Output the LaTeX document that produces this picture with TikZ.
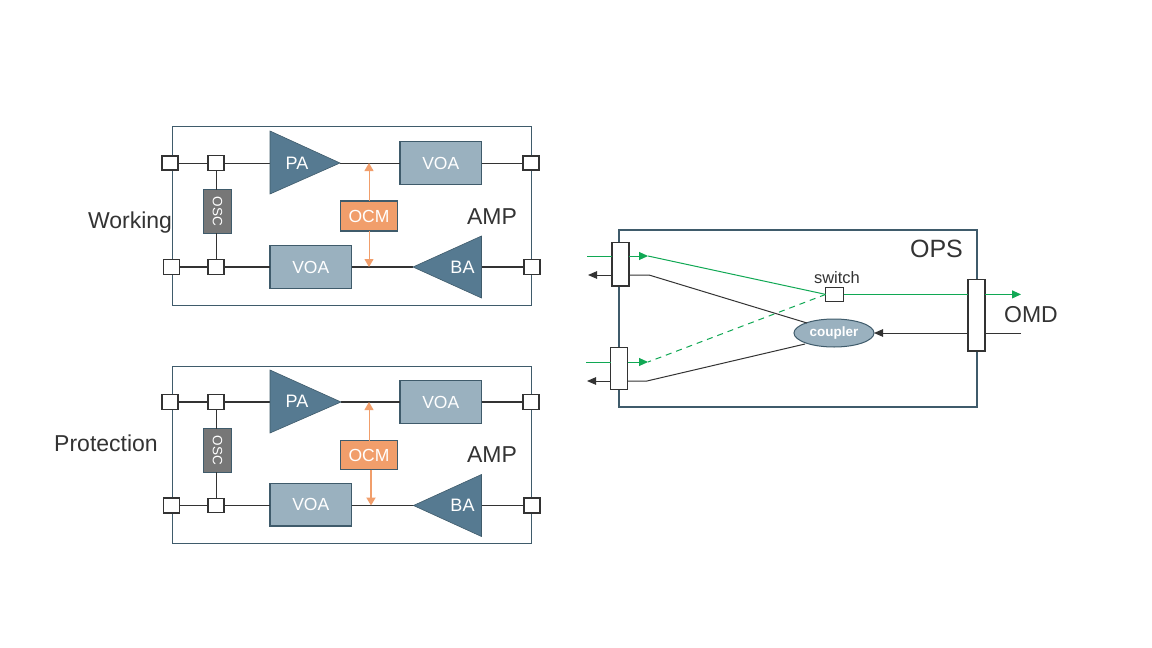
\documentclass[tikz,border=0pt]{standalone}
\usepackage{fontspec}
\setmainfont{Liberation Sans}
\usetikzlibrary{arrows.meta,shapes.geometric,calc}
\definecolor{edge}{HTML}{3F5B6B}
\definecolor{tri}{HTML}{567A91}
\definecolor{voacol}{HTML}{9AB1BF}
\definecolor{ocmcol}{HTML}{F19E6B}
\definecolor{osccol}{HTML}{777777}
\definecolor{ink}{HTML}{333333}
\definecolor{grn}{HTML}{10A854}
\tikzset{
  x=1pt,y=-1pt,
  frame/.style={draw=edge,line width=1pt,fill=white,anchor=north west,inner sep=0pt,outer sep=0pt},
  port/.style={draw=ink,line width=1.1pt,fill=white,minimum width=16pt,minimum height=14.5pt,inner sep=0pt,outer sep=0pt},
  portb/.style={port,line width=1.8pt},
  boxbase/.style={draw=edge,line width=1.2pt,inner sep=0pt,outer sep=0pt,text=white,font=\fontsize{17.5}{17.5}\selectfont},
  voabox/.style={boxbase,fill=voacol,minimum width=81.5pt,minimum height=42.5pt},
  ocmbox/.style={boxbase,fill=ocmcol,minimum width=57pt,minimum height=30pt},
  oscbox/.style={boxbase,fill=osccol,minimum width=28.5pt,minimum height=43.5pt,font=\fontsize{13.5}{13.5}\selectfont},
  tribox/.style={draw=edge,line width=.6pt,fill=tri,line join=miter},
  trilabel/.style={text=white,font=\fontsize{18}{18}\selectfont,inner sep=0pt},
  biglabel/.style={text=ink,font=\fontsize{23}{23}\selectfont,inner sep=0pt},
  thin line/.style={draw=ink,line width=1pt},
  thick line/.style={draw=ink,line width=2.2pt},
  ocmline/.style={draw=ocmcol,line width=.9pt,-{Triangle[length=8pt,width=9pt]}},
  ocmlineb/.style={ocmline,line width=1.8pt},
  blackarrow/.style={draw=ink,line width=1pt,-{Triangle[length=9pt,width=7.5pt]}},
  greenline/.style={draw=grn,line width=1pt},
  greenarrow/.style={greenline,-{Triangle[length=9pt,width=8pt]}},
  splitter/.style={draw=ink,fill=white,inner sep=0pt,outer sep=0pt},
}
\begin{document}
\begin{tikzpicture}[x=1pt,y=-1pt]
\useasboundingbox (0,0) rectangle (1152,648);
% ---------- Working AMP
\node[frame,minimum width=358.5pt,minimum height=178.5pt] (amp1) at (172.5,126.5) {};
\node[portb] (a1) at (170,163) {};
\node[port] (a2) at (216,163) {};
\node[portb] (a3) at (531,163) {};
\node[port] (a4) at (171.5,267) {};
\node[port] (a5) at (216,267) {};
\node[port] (a6) at (532,267) {};
\coordinate (pa1b) at (270,163); \coordinate (pa1t) at (340,163);
\coordinate (ba1b) at (481.5,267); \coordinate (ba1t) at (413,267);
\coordinate (t1) at (369,163); \coordinate (u1) at (369,267);
\node[voabox] (v1) at (440.75,163) {VOA};
\node[voabox] (v2) at (310.75,267) {VOA};
\node[ocmbox] (o1) at (369,216) {OCM};
\node[oscbox] (s1) at (217.5,211.5) {\rotatebox{-90}{OSC}};
\draw[thin line] (a1) -- (a2) -- (pa1b);
\draw[thin line] (pa1t) -- (v1);
\draw[thin line] (v1) -- (a3);
\draw[thick line] (a4) -- (a5);
\draw[thick line] (a5) -- (v2);
\draw[thick line] (v2) -- (ba1t);
\draw[thick line] (ba1b) -- (a6);
\draw[thin line] (a2) -- (a2|-s1.north);
\draw[thin line] (a5) -- (a5|-s1.south);
\draw[ocmline] (o1.north) -- (t1);
\draw[ocmline] (o1.south) -- (u1);
\draw[tribox] (270,131) -- (pa1t) -- (270,194) -- cycle;
\draw[tribox] (ba1t) -- (481.5,236) -- (481.5,298) -- cycle;
\node[trilabel] (pa1) at (297,163) {PA};
\node[trilabel] (ba1) at (462.5,267) {BA};
\node[portb] at (a1) {};
\node[port] at (a2) {};
\node[portb] at (a3) {};
\node[port] at (a4) {};
\node[port] at (a5) {};
\node[port] at (a6) {};
\node[biglabel] (amp1l) at (492,217) {AMP};
\node[biglabel] (work) at (130,222.5) {Working};
% ---------- Protection AMP
\node[frame,minimum width=358.5pt,minimum height=176.5pt] (amp2) at (172.5,366.7) {};
\coordinate (pa2b) at (270,402); \coordinate (pa2t) at (341,402);
\coordinate (ba2b) at (481.5,505.5); \coordinate (ba2t) at (413.5,505.5);
\coordinate (t2) at (369,402); \coordinate (u2) at (371,505.5);
\node[port] (b1) at (170,402) {};
\node[port] (b2) at (216,402) {};
\node[port] (b3) at (531,402) {};
\node[portb] (b4) at (171.5,505.5) {};
\node[port] (b5) at (216,505.5) {};
\node[portb] (b6) at (532,505.5) {};
\node[voabox] (v3) at (440.75,402) {VOA};
\node[voabox] (v4) at (310.75,504.8) {VOA};
\node[ocmbox,minimum height=29pt] (o2) at (369,455) {OCM};
\node[oscbox] (s2) at (217.5,450.5) {\rotatebox{-90}{OSC}};
\draw[thick line] (b1) -- (b2);
\draw[thick line] (b2) -- (pa2b);
\draw[thick line] (pa2t) -- (v3);
\draw[thick line] (v3) -- (b3);
\draw[thin line] (b4) -- (b5);
\draw[thin line] (b5) -- (v4.west|-b5);
\draw[thin line] (v4.east|-b5) -- (ba2t);
\draw[thin line] (ba2b) -- (b6);
\draw[thin line] (b2) -- (b2|-s2.north);
\draw[thin line] (b5) -- (b5|-s2.south);
\draw[ocmline] (o2.north) -- (t2);
\draw[ocmlineb] (u2|-o2.south) -- (u2);
\draw[tribox] (270,370) -- (pa2t) -- (270,433) -- cycle;
\draw[tribox] (ba2t) -- (481.5,474.5) -- (481.5,536.5) -- cycle;
\node[trilabel] (pa2) at (297,401.5) {PA};
\node[trilabel] (ba2) at (462.5,505.5) {BA};
\node[port] at (b1) {};
\node[port] at (b2) {};
\node[port] at (b3) {};
\node[portb] at (b4) {};
\node[port] at (b5) {};
\node[portb] at (b6) {};
\node[biglabel] (amp2l) at (492,455) {AMP};
\node[biglabel] (prot) at (106,443) {Protection};
% ---------- OPS
\node[frame,minimum width=358pt,minimum height=177pt,line width=1.1pt] (ops) at (619,230) {};
\node[splitter,line width=1.8pt,minimum width=17.5pt,minimum height=43.5pt] (l1) at (620.6,264.2) {};
\node[splitter,line width=1pt,minimum width=17pt,minimum height=42pt] (l2) at (619,368.5) {};
\node[splitter,line width=1.8pt,minimum width=17.5pt,minimum height=71.5pt] (r1) at (976.4,315.2) {};
\node[draw=ink,line width=1pt,fill=white,minimum width=17.8pt,minimum height=14.2pt,inner sep=0pt,outer sep=0pt] (sw) at (834.6,294.4) {};
\node[draw=edge,line width=1pt,fill=voacol,ellipse,minimum width=80pt,minimum height=28pt,inner sep=0pt,outer sep=0pt,text=white,font=\bfseries\fontsize{13.5}{13.5}\selectfont] (cp) at (834,333) {coupler};
\coordinate (gi1) at (587,256);
\coordinate (go1) at (648,256);
\coordinate (bi1) at (588,275);
\coordinate (bo1) at (649,275);
\coordinate (gi2) at (586,362);
\coordinate (go2) at (648,362);
\coordinate (bi2) at (587,381);
\coordinate (bo2) at (647,381);
\coordinate (ca) at (807,323);
\coordinate (cb) at (805,344);
\coordinate (om1) at (1021,294.4);
\coordinate (om2) at (1021,333);
\draw[greenline] (gi1) -- (l1.west|-gi1);
\draw[greenarrow] (l1.east|-gi1) -- (go1);
\draw[greenline] (go1) -- (sw.west);
\draw[greenline] (gi2) -- (l2.west|-gi2);
\draw[greenarrow] (l2.east|-gi2) -- (go2);
\draw[greenline,dashed,dash pattern=on 6pt off 5pt] (sw.west) -- (go2);
\draw[blackarrow] (l1.west|-bi1) -- (bi1);
\draw[blackarrow] (l2.west|-bi2) -- (bi2);
\draw[thin line] (l1.east|-bi1) -- (bo1) -- (ca);
\draw[thin line] (l2.east|-bi2) -- (bo2) -- (cb);
\draw[greenline] (sw.east) -- (r1.west|-sw);
\draw[greenarrow] (r1.east|-sw) -- (om1);
\draw[thin line] (om2) -- (r1.east|-om2);
\draw[blackarrow] (r1.west|-om2) -- (cp.east);
\node[biglabel,font=\fontsize{25}{25}\selectfont] (opsl) at (936.5,249) {OPS};
\node[text=ink,inner sep=0pt,font=\fontsize{16.5}{16.5}\selectfont] (swl) at (837,277.5) {switch};
\node[biglabel] (omd) at (1031,314.5) {OMD};
\end{tikzpicture}
\end{document}
